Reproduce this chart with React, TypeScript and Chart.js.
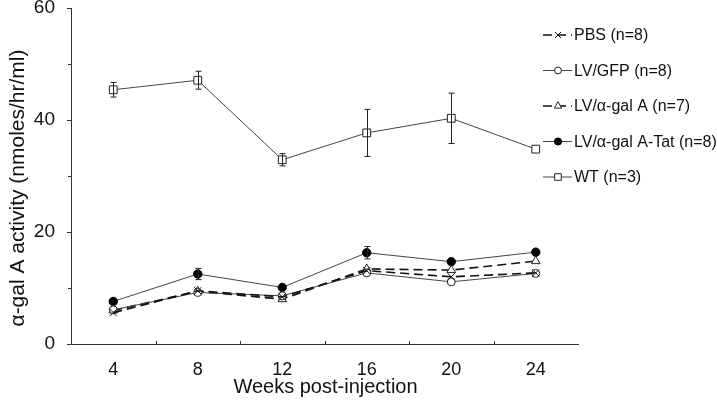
import React, { useEffect, useRef } from 'react';
import { Chart, registerables } from 'chart.js';
import { drawPoint } from 'chart.js/helpers';

Chart.register(...registerables);

const FONT = "'Liberation Sans', Arial, Helvetica, sans-serif";

const weeks = [4, 8, 12, 16, 20, 24];
const seriesLabels = ['PBS (n=8)', 'LV/GFP (n=8)', 'LV/\u03b1-gal A (n=7)', 'LV/\u03b1-gal A-Tat (n=8)', 'WT (n=3)'];

const pbs = [5.6, 9.5, 8.4, 13.1, 12.0, 12.7];
const gfp = [6.1, 9.2, 8.6, 12.7, 11.1, 12.6];
const alphaGal = [6.0, 9.4, 8.0, 13.4, 13.2, 14.8];
const alphaGalTat = [7.6, 12.5, 10.1, 16.3, 14.7, 16.4];
const wt = [45.4, 47.1, 32.9, 37.7, 40.3, 34.8];

const pbsErr = [0.3, 0.4, 0.3, 0.4, 0.3, 0.3];
const gfpErr = [0.3, 0.3, 0.3, 0.3, 0.4, 0.3];
const alphaGalErr = [0.3, 0.3, 0.4, 0.4, 0.5, 0.5];
const alphaGalTatErr = [0.3, 1.0, 0.3, 1.1, 0.4, 0.5];
const wtErr = [1.3, 1.6, 1.1, 4.2, 4.5, 0.4];

const yTickLabels = [0, 20, 40, 60];
const xTickLabels = [4, 8, 12, 16, 20, 24];

const xTitle = 'Weeks post-injection';
const yTitle = '\u03b1-gal A activity (nmoles/hr/ml)';

const values = [pbs, gfp, alphaGal, alphaGalTat, wt];
const errors = [pbsErr, gfpErr, alphaGalErr, alphaGalTatErr, wtErr];

function drawMarker(ctx: any, ds: any, x: number, y: number, scale: number) {
  ctx.save();
  ctx.setLineDash([]);
  ctx.fillStyle = ds.pointBackgroundColor;
  ctx.strokeStyle = ds.pointBorderColor;
  ctx.lineWidth = ds.pointBorderWidth;
  drawPoint(ctx, { pointStyle: ds.pointStyle, radius: ds.pointRadius * scale, borderWidth: ds.pointBorderWidth, rotation: 0 } as any, x, y);
  ctx.restore();
}

const customPlugin = {
  id: 'customDecor',
  afterDatasetsDraw(chart: any) {
    const ctx = chart.ctx;
    const xs = chart.scales.x;
    const ys = chart.scales.y;
    const area = chart.chartArea;
    ctx.save();
    // error bars
    values.forEach((vals, i) => {
      const errs = errors[i];
      vals.forEach((v, j) => {
        const e = errs[j];
        if (!e || e < 0.6) return;
        const x = Math.round(xs.getPixelForValue(weeks[j])) + 0.5;
        const y1 = ys.getPixelForValue(v + e);
        const y2 = ys.getPixelForValue(v - e);
        ctx.strokeStyle = '#222';
        ctx.lineWidth = 1;
        ctx.setLineDash([]);
        ctx.beginPath();
        ctx.moveTo(x, y1);
        ctx.lineTo(x, y2);
        ctx.moveTo(x - 3, y1);
        ctx.lineTo(x + 3, y1);
        ctx.moveTo(x - 3, y2);
        ctx.lineTo(x + 3, y2);
        ctx.stroke();
      });
    });
    // axis ticks
    ctx.strokeStyle = '#333';
    ctx.lineWidth = 1;
    ctx.beginPath();
    for (let v = 0; v <= 60; v += 10) {
      const y = Math.round(ys.getPixelForValue(v)) + 0.5;
      const len = v % 20 === 0 ? 4 : 3;
      ctx.moveTo(area.left - len, y);
      ctx.lineTo(area.left, y);
    }
    for (let v = 6; v <= 22; v += 4) {
      const x = Math.round(xs.getPixelForValue(v)) + 0.5;
      ctx.moveTo(x, area.bottom);
      ctx.lineTo(x, area.bottom - 3);
    }
    ctx.stroke();
    // legend
    const legX0 = 543;
    const legX1 = 572;
    chart.data.datasets.forEach((ds: any, i: number) => {
      const y = 35 + i * 35.5;
      ctx.strokeStyle = ds.borderColor;
      ctx.lineWidth = ds.borderWidth;
      ctx.setLineDash(ds.borderDash || []);
      ctx.beginPath();
      ctx.moveTo(legX0, y);
      ctx.lineTo(legX1, y);
      ctx.stroke();
      ctx.setLineDash([]);
      drawMarker(ctx, ds, 558, y, 0.85);
      ctx.fillStyle = '#111';
      ctx.font = `16px ${FONT}`;
      ctx.textAlign = 'left';
      ctx.textBaseline = 'middle';
      ctx.fillText(ds.label, 574, y + 1);
    });
    // titles
    ctx.fillStyle = '#111';
    ctx.font = `20px ${FONT}`;
    ctx.textAlign = 'center';
    ctx.textBaseline = 'middle';
    ctx.fillText(xTitle, (area.left + area.right) / 2 + 1, 387);
    ctx.save();
    ctx.font = `21px ${FONT}`;
    ctx.translate(18, 188);
    ctx.rotate(-Math.PI / 2);
    ctx.fillText(yTitle, 0, 0);
    ctx.restore();
    ctx.restore();
  },
};

function makeDataset(label: string, data: number[], style: any) {
  return {
    label,
    data: data.map((v, i) => ({ x: weeks[i], y: v })),
    tension: 0,
    ...style,
  };
}

export default function App() {
  const ref = useRef<HTMLCanvasElement | null>(null);
  useEffect(() => {
    document.body.style.margin = '0';
    const canvas = ref.current;
    if (!canvas) return;
    const datasets = [
      makeDataset(seriesLabels[0], pbs, {
        borderColor: '#111', borderWidth: 1.6, borderDash: [9, 5],
        pointStyle: 'crossRot', pointRadius: 5, pointBorderColor: '#111', pointBackgroundColor: '#111', pointBorderWidth: 1,
      }),
      makeDataset(seriesLabels[1], gfp, {
        borderColor: '#444', borderWidth: 1,
        pointStyle: 'circle', pointRadius: 4, pointBorderColor: '#222', pointBackgroundColor: '#fff', pointBorderWidth: 1,
      }),
      makeDataset(seriesLabels[2], alphaGal, {
        borderColor: '#111', borderWidth: 1.6, borderDash: [9, 5],
        pointStyle: 'triangle', pointRadius: 5, pointBorderColor: '#222', pointBackgroundColor: '#fff', pointBorderWidth: 1,
      }),
      makeDataset(seriesLabels[3], alphaGalTat, {
        borderColor: '#444', borderWidth: 1,
        pointStyle: 'circle', pointRadius: 4.2, pointBorderColor: '#000', pointBackgroundColor: '#000', pointBorderWidth: 1,
      }),
      makeDataset(seriesLabels[4], wt, {
        borderColor: '#444', borderWidth: 1,
        pointStyle: 'rect', pointRadius: 5.5, pointBorderColor: '#222', pointBackgroundColor: '#fff', pointBorderWidth: 1,
      }),
    ];
    const chart = new Chart(canvas, {
      type: 'line',
      data: { datasets } as any,
      options: {
        animation: false,
        responsive: false,
        devicePixelRatio: 1,
        layout: { padding: { top: 8, right: 139, left: 0, bottom: 0 } },
        plugins: { legend: { display: false }, tooltip: { enabled: false } },
        scales: {
          x: {
            type: 'linear',
            min: 2,
            max: 26,
            afterFit: (s: any) => { s.height = 61; s.paddingLeft = 0; s.paddingRight = 0; },
            grid: { display: false },
            border: { display: true, color: '#333', width: 1 },
            afterBuildTicks: (s: any) => { s.ticks = xTickLabels.map((v) => ({ value: v })); },
            ticks: {
              autoSkip: false,
              maxRotation: 0,
              padding: 7,
              color: '#111',
              font: { family: FONT, size: 18 },
              callback: (v: any) => String(v),
            },
          },
          y: {
            type: 'linear',
            min: 0,
            max: 60,
            afterFit: (s: any) => { s.width = 71; s.paddingTop = 0; s.paddingBottom = 0; },
            grid: { display: false },
            border: { display: true, color: '#333', width: 1 },
            afterBuildTicks: (s: any) => { s.ticks = yTickLabels.map((v) => ({ value: v })); },
            ticks: {
              padding: 8,
              color: '#111',
              font: { family: FONT, size: 19 },
              callback: (v: any) => String(v),
            },
          },
        },
      },
      plugins: [customPlugin],
    });
    return () => chart.destroy();
  }, []);
  return (
    <div style={{ width: 717, height: 405 }}>
      <canvas ref={ref} width={717} height={405} />
    </div>
  );
}
